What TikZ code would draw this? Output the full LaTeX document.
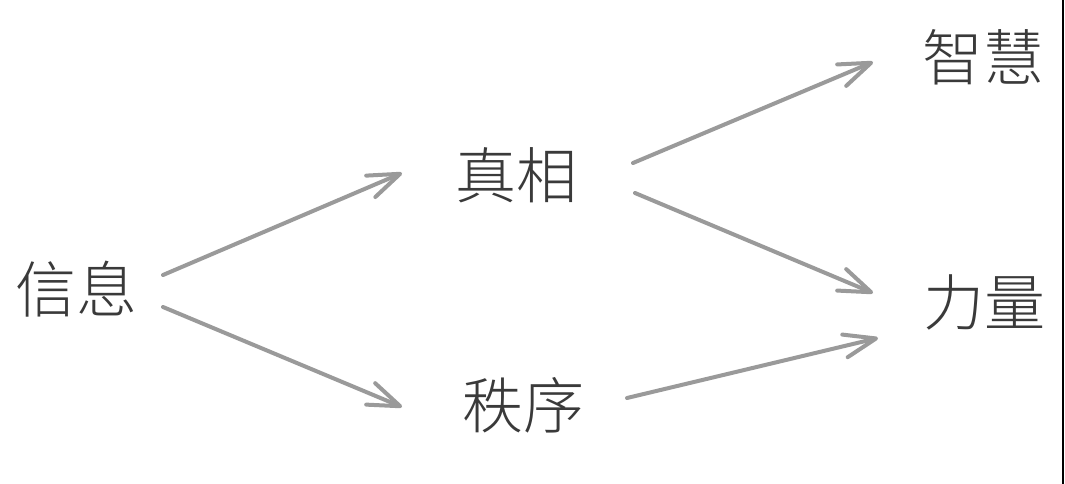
\documentclass[tikz,border=0pt]{standalone}
\usepackage{fontspec}
\newfontfamily\cjk{Noto Sans CJK SC Light}
\usetikzlibrary{arrows.meta}
\definecolor{linegray}{HTML}{9A9A9A}
\definecolor{textgray}{HTML}{3A3A3A}
\begin{document}
\begin{tikzpicture}[x=1pt,y=-1pt,
  word/.style={inner sep=0pt, text=textgray, font=\cjk\fontsize{61}{61}\selectfont},
  arr/.style={draw=linegray, line width=4pt, line cap=round,
    -{Straight Barb[angle=40:34pt, line width=4pt, round]}}]
\useasboundingbox (0,0) rectangle (1065,484);
\fill[white] (0,0) rectangle (1065,484);
\node[word] (xx) at (76,289) {信息};
\node[word] (zx) at (516,175) {真相};
\node[word] (zy) at (523,405) {秩序};
\node[word] (zh) at (983,57) {智慧};
\node[word] (ll) at (984,302) {力量};
\coordinate (edgetop) at (1063,0);
\coordinate (edgebot) at (1063,484);
\draw[black, line width=2.5pt] (edgetop) -- (edgebot);
\draw[arr] ([shift={(87,-14)}]xx.center) -- ([shift={(-114,-2)}]zx.center);
\draw[arr] ([shift={(87,18)}]xx.center) -- ([shift={(-121,2)}]zy.center);
\draw[arr] ([shift={(117,-12)}]zx.center) -- ([shift={(-110,5)}]zh.center);
\draw[arr] ([shift={(119,18)}]zx.center) -- ([shift={(-111,-9)}]ll.center);
\draw[arr] ([shift={(104,-7)}]zy.center) -- ([shift={(-106,36)}]ll.center);
\end{tikzpicture}
\end{document}
